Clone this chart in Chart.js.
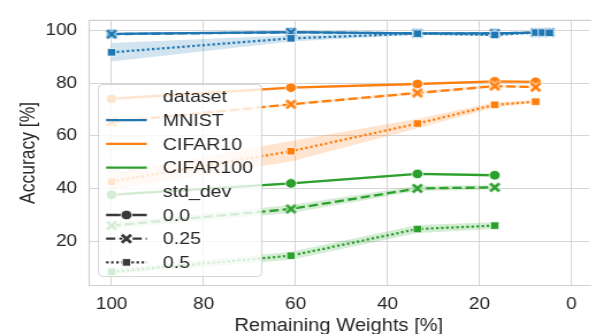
<!DOCTYPE html>
<html>
<head>
<meta charset="utf-8">
<script src="https://cdn.jsdelivr.net/npm/chart.js@4.4.1/dist/chart.umd.min.js"></script>
<style>
  html, body { margin: 0; padding: 0; background: #fff; overflow: hidden; }
  /* the reference figure is slightly stretched horizontally */
  #wrap { width: 518px; height: 334px; transform: scaleX(1.1506); transform-origin: 0 0; }
</style>
</head>
<body>
<div id="wrap"><canvas id="pruneChart"></canvas></div>
<script>
// x = remaining weights [%], y = accuracy [%]
const xTicks = [0, 20, 40, 60, 80, 100];
const yTicks = [20, 40, 60, 80, 100];
const datasetNames = ["MNIST", "CIFAR10", "CIFAR100"];
const stdDevLabels = ["0.0", "0.25", "0.5"];

const mnistWeights = [100, 61, 33.5, 16.7, 7.8, 6.3, 4.8];
const mnistAcc00 = [98.7, 99.4, 98.9, 98.9, 99.2, 99.2, 99.2];
const mnistAcc025 = [98.6, 99.3, 98.9, 98.9, 99.2, 99.2, 99.2];
const mnistAcc05 = [91.7, 97.0, 98.8, 98.3, 99.2, 99.2, 99.1];
const mnistSd00 = [0.3, 0.2, 0.2, 0.2, 0.2, 0.2, 0.2];
const mnistSd025 = [0.3, 0.2, 0.2, 0.2, 0.2, 0.2, 0.2];
const mnistSd05 = [3.5, 1.2, 0.4, 0.5, 0.3, 0.3, 0.3];

const cifar10Weights = [100, 61, 33.5, 16.7, 7.8];
const cifar10Acc00 = [74.1, 78.3, 79.7, 80.7, 80.5];
const cifar10Acc025 = [65.3, 72.0, 76.3, 78.9, 78.5];
const cifar10Acc05 = [42.7, 54.2, 64.7, 71.8, 73.0];
const cifar10Sd00 = [0.4, 0.4, 0.4, 0.3, 0.3];
const cifar10Sd025 = [0.6, 0.5, 0.6, 0.5, 0.4];
const cifar10Sd05 = [3.0, 3.9, 1.8, 1.0, 0.5];

const cifar100Weights = [100, 61, 33.5, 16.7];
const cifar100Acc00 = [37.7, 42.0, 45.6, 45.1];
const cifar100Acc025 = [26.0, 32.3, 40.1, 40.5];
const cifar100Acc05 = [8.5, 14.6, 24.7, 26.0];
const cifar100Sd00 = [0.4, 0.4, 0.4, 0.4];
const cifar100Sd025 = [1.2, 1.5, 1.0, 0.8];
const cifar100Sd05 = [1.0, 1.5, 1.5, 1.3];

const colors = ["#1f77b4", "#ff7f0e", "#2ca02c"];
const bandColors = ["rgba(31,119,180,0.2)", "rgba(255,127,14,0.2)", "rgba(44,160,44,0.2)"];
const FONT = '"Liberation Sans", Arial, sans-serif';
const TEXT = "#262626";

function drawX(g, cx, cy, h, color) {
  g.lineCap = "butt";
  [["#fff", 4.4], [color, 2.8]].forEach(function (s) {
    g.strokeStyle = s[0];
    g.lineWidth = s[1];
    g.setLineDash([]);
    g.beginPath();
    g.moveTo(cx - h, cy - h); g.lineTo(cx + h, cy + h);
    g.moveTo(cx - h, cy + h); g.lineTo(cx + h, cy - h);
    g.stroke();
  });
}
function xMarker(color) {
  const c = document.createElement("canvas");
  c.width = 13; c.height = 13;
  drawX(c.getContext("2d"), 6.5, 6.5, 4, color);
  return c;
}

const styles = [
  { dash: [], marker: () => "circle", r: 4.8 },
  { dash: [8, 3.5], marker: (c) => xMarker(c), r: 5 },
  { dash: [2.2, 2.2], marker: () => "rect", r: 5.3 },
];

const datasets = [];
let seriesCount = 0;
function addSeries(xs, ys, sd, ci, si) {
  const pts = (arr) => xs.map((x, i) => ({ x: x, y: arr[i] }));
  datasets.push({
    data: pts(ys.map((y, i) => y - sd[i])),
    borderWidth: 0, borderColor: "transparent", pointRadius: 0, fill: false, order: 200,
  });
  datasets.push({
    data: pts(ys.map((y, i) => y + sd[i])),
    borderWidth: 0, borderColor: "transparent", pointRadius: 0,
    fill: "-1", backgroundColor: bandColors[ci], order: 200,
  });
  const st = styles[si];
  // later series are drawn on top (higher order is drawn first)
  datasets.push({
    data: pts(ys),
    borderColor: colors[ci],
    borderWidth: 2.3,
    borderDash: st.dash,
    pointStyle: st.marker(colors[ci]),
    pointRadius: st.r,
    pointBackgroundColor: colors[ci],
    pointBorderColor: "#fff",
    pointBorderWidth: 0.8,
    fill: false,
    order: 100 - seriesCount++,
  });
}
addSeries(mnistWeights, mnistAcc00, mnistSd00, 0, 0);
addSeries(mnistWeights, mnistAcc025, mnistSd025, 0, 1);
addSeries(mnistWeights, mnistAcc05, mnistSd05, 0, 2);
addSeries(cifar10Weights, cifar10Acc00, cifar10Sd00, 1, 0);
addSeries(cifar10Weights, cifar10Acc025, cifar10Sd025, 1, 1);
addSeries(cifar10Weights, cifar10Acc05, cifar10Sd05, 1, 2);
addSeries(cifar100Weights, cifar100Acc00, cifar100Sd00, 2, 0);
addSeries(cifar100Weights, cifar100Acc025, cifar100Sd025, 2, 1);
addSeries(cifar100Weights, cifar100Acc05, cifar100Sd05, 2, 2);

// light frame around the plot area, like seaborn whitegrid
const framePlugin = {
  id: "frame",
  beforeDatasetsDraw(chart) {
    const { ctx, chartArea: a } = chart;
    ctx.save();
    ctx.strokeStyle = "#d0d0d0";
    ctx.lineWidth = 1.2;
    ctx.beginPath();
    ctx.moveTo(a.right + 2, a.top + 0.5);
    ctx.lineTo(a.left + 0.5, a.top + 0.5);
    ctx.lineTo(a.left + 0.5, a.bottom - 0.5);
    ctx.lineTo(a.right + 2, a.bottom - 0.5);
    ctx.stroke();
    ctx.restore();
  },
};

// seaborn style legend inside the axes
const legendPlugin = {
  id: "seabornLegend",
  afterDraw(chart) {
    const ctx = chart.ctx;
    ctx.save();
    ctx.beginPath();
    ctx.roundRect(85.5, 84.5, 142, 192, 4);
    ctx.fillStyle = "rgba(255,255,255,0.8)";
    ctx.fill();
    ctx.strokeStyle = "rgba(204,204,204,0.8)";
    ctx.lineWidth = 1;
    ctx.stroke();

    const rows = [{ t: "dataset" }]
      .concat(datasetNames.map((n, i) => ({ t: n, color: colors[i] })))
      .concat([{ t: "std_dev" }])
      .concat(stdDevLabels.map((n, i) => ({ t: n, style: i })));
    const x0 = 92.2, x1 = 127.6, xm = (x0 + x1) / 2;
    ctx.font = "17px " + FONT;
    ctx.textBaseline = "middle";
    rows.forEach((r, i) => {
      const y = 96.5 + i * 23.7;
      if (r.color || r.style !== undefined) {
        const col = r.color || "#3a3a3a";
        ctx.strokeStyle = col;
        ctx.lineWidth = 2.3;
        ctx.setLineDash(r.color ? [] : styles[r.style].dash);
        ctx.beginPath();
        ctx.moveTo(x0, y); ctx.lineTo(x1, y);
        ctx.stroke();
        ctx.setLineDash([]);
        if (r.style === 0) {
          ctx.beginPath();
          ctx.arc(xm, y, 4.8, 0, Math.PI * 2);
          ctx.fillStyle = col; ctx.fill();
          ctx.strokeStyle = "#fff"; ctx.lineWidth = 0.8; ctx.stroke();
        } else if (r.style === 1) {
          drawX(ctx, xm, y, 4, col);
        } else if (r.style === 2) {
          ctx.fillStyle = col;
          ctx.fillRect(xm - 3.7, y - 3.7, 7.4, 7.4);
          ctx.strokeStyle = "#fff"; ctx.lineWidth = 0.8;
          ctx.strokeRect(xm - 3.7, y - 3.7, 7.4, 7.4);
        }
      }
      ctx.fillStyle = TEXT;
      ctx.textAlign = "left";
      ctx.fillText(r.t, 141.5, y + 1);
    });
    ctx.restore();
  },
};

const ctx = document.getElementById("pruneChart").getContext("2d");
const pruneChart = new Chart(ctx, {
  type: "line",
  data: { datasets: datasets },
  plugins: [framePlugin, legendPlugin],
  options: {
    responsive: true,
    maintainAspectRatio: false,
    animation: false,
    layout: { padding: { left: 0, right: 0, top: 6, bottom: 0 } },
    elements: { line: { tension: 0 } },
    scales: {
      x: {
        type: "linear",
        reverse: true,
        min: -3.8,
        max: 105,
        afterBuildTicks: (scale) => { scale.ticks = xTicks.map((v) => ({ value: v })); },
        afterFit: (scale) => { scale.height = 48; },
        grid: { color: "#d5d5d5", lineWidth: 1, drawTicks: false },
        border: { display: false },
        ticks: { color: TEXT, padding: 9, font: { family: FONT, size: 16.5 } },
        title: {
          display: true,
          text: "Remaining Weights [%]",
          color: TEXT,
          font: { family: FONT, size: 17.5, lineHeight: 1 },
          padding: { top: 0, bottom: -1 },
        },
      },
      y: {
        min: 3.1,
        max: 104,
        afterBuildTicks: (scale) => { scale.ticks = yTicks.map((v) => ({ value: v })); },
        afterFit: (scale) => { scale.width = 77; },
        grid: { color: "#d5d5d5", lineWidth: 1, drawTicks: false },
        border: { display: false },
        ticks: { color: TEXT, padding: 10, font: { family: FONT, size: 16.5 } },
        title: {
          display: true,
          text: "Accuracy [%]",
          color: TEXT,
          font: { family: FONT, size: 17.5, lineHeight: 1 },
          padding: { top: 16.5, bottom: 0 },
        },
      },
    },
    plugins: {
      legend: { display: false },
      tooltip: { enabled: false },
    },
  },
});
</script>
</body>
</html>
